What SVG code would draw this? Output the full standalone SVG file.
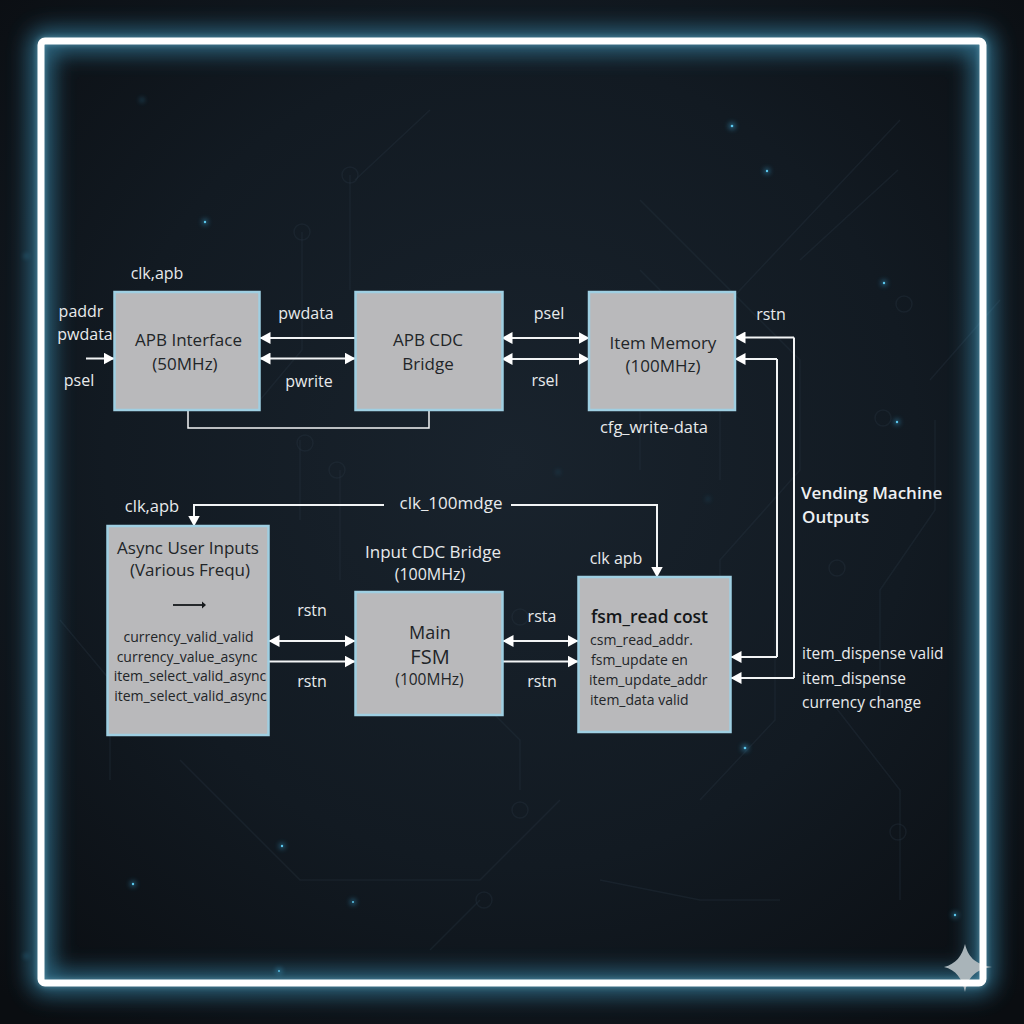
<svg xmlns="http://www.w3.org/2000/svg" width="1024" height="1024" viewBox="0 0 1024 1024">
<defs>
<radialGradient id="bg" cx="50%" cy="45%" r="72%">
<stop offset="0" stop-color="#19232d"/><stop offset="0.55" stop-color="#121a22"/><stop offset="1" stop-color="#0a0d11"/>
</radialGradient>
<filter id="glow" x="-15%" y="-15%" width="130%" height="130%"><feGaussianBlur stdDeviation="11"/></filter>
<filter id="soft" x="-15%" y="-15%" width="130%" height="130%"><feGaussianBlur stdDeviation="3"/></filter>
<filter id="dot" x="-300%" y="-300%" width="700%" height="700%"><feGaussianBlur stdDeviation="2.5"/></filter>
<filter id="bl" x="-5%" y="-5%" width="110%" height="110%"><feGaussianBlur stdDeviation="0.35"/></filter>
<marker id="h" viewBox="0 0 11 12" refX="10.5" refY="6" markerWidth="11" markerHeight="12" markerUnits="userSpaceOnUse" orient="auto-start-reverse"><path d="M0 0L11 6L0 12Z" fill="#fff"/></marker>
<style>
.box{fill:#b9b9bb;stroke:#9fcfe2;stroke-width:2.5}
.c{fill:none;stroke:#f2f4f5;stroke-width:2}
.a{marker-end:url(#h)}
.d{marker-start:url(#h);marker-end:url(#h)}
text{font-family:"Open Sans","Noto Sans","Liberation Sans",sans-serif}
.l{fill:#e8eaec;font-size:16px;text-anchor:middle}
.ls{fill:#e8eaec;font-size:15.5px}
.t{fill:#222528;font-size:17px;text-anchor:middle}
.m{fill:#222528;font-size:14px;text-anchor:middle}
.n{fill:#222528;font-size:14px}
.tr{fill:none;stroke:#2a3844;stroke-width:1.5;opacity:.3}
.s{fill:#5cc8ee}
.sg{fill:#3aa6d6;opacity:.5;filter:url(#dot)}
</style>
</defs>
<rect width="1024" height="1024" fill="url(#bg)"/>
<g id="background-traces">
<path class="tr" d="M350 175V290M302 232V350L260 400M355 180L430 110M640 200L800 360V470L720 560V700M900 120L740 290L640 400V470M898 170L800 260M935 420V510L880 590V700M1000 300L930 380M775 620V720L700 800M180 760L300 880H480L560 800M520 790V740L470 690M60 620L110 680V780M300 440V520M340 470V580M640 270L720 350V480M830 700L900 790V900M480 900L430 950M600 880L700 900H780"/>
<circle class="tr" cx="350" cy="175" r="8"/><circle class="tr" cx="302" cy="232" r="8"/><circle class="tr" cx="305" cy="443" r="8"/><circle class="tr" cx="337" cy="470" r="8"/><circle class="tr" cx="904" cy="304" r="8"/><circle class="tr" cx="883" cy="418" r="8"/><circle class="tr" cx="837" cy="568" r="8"/><circle class="tr" cx="520" cy="810" r="8"/><circle class="tr" cx="484" cy="900" r="8"/><circle class="tr" cx="898" cy="832" r="8"/><circle class="tr" cx="520" cy="617" r="8"/>
</g>
<g id="sparkles">
<circle class="sg" cx="732" cy="126" r="3.500"/><circle class="s" cx="732" cy="126" r="1.300"/>
<circle class="sg" cx="767" cy="171" r="3"/><circle class="s" cx="767" cy="171" r="1.200"/>
<circle class="sg" cx="884" cy="283" r="3"/><circle class="s" cx="884" cy="283" r="1.200"/>
<circle class="sg" cx="897" cy="422" r="3"/><circle class="s" cx="897" cy="422" r="1.200"/>
<circle class="sg" cx="205" cy="222" r="3"/><circle class="s" cx="205" cy="222" r="1.200"/>
<circle class="sg" cx="142" cy="100" r="2"/>
<circle class="sg" cx="558" cy="472" r="1.500"/><circle class="sg" cx="708" cy="499" r="1.500"/>
<circle class="sg" cx="745" cy="748" r="3.500"/><circle class="s" cx="745" cy="748" r="1.300"/>
<circle class="sg" cx="282" cy="846" r="3"/><circle class="s" cx="282" cy="846" r="1.200"/>
<circle class="sg" cx="133" cy="884" r="3"/><circle class="s" cx="133" cy="884" r="1.200"/>
<circle class="sg" cx="353" cy="902" r="3"/><circle class="s" cx="353" cy="902" r="1"/>
<circle class="sg" cx="279" cy="971" r="3"/><circle class="s" cx="279" cy="971" r="1"/>
<circle class="sg" cx="955" cy="915" r="3"/><circle class="s" cx="955" cy="915" r="1.200"/>
<circle class="sg" cx="26" cy="256" r="2"/><circle class="sg" cx="26" cy="956" r="2"/>
</g>
<g id="frame">
<rect x="41" y="41" width="942" height="942" rx="4" fill="none" stroke="#3f9cc4" stroke-width="22" filter="url(#glow)" opacity=".65"/>
<rect x="41" y="41" width="942" height="942" rx="4" fill="none" stroke="#8fdcf5" stroke-width="7" filter="url(#soft)" opacity=".45"/>
<path d="M965 944C968 956 974 964 992 967C974 970 968 978 965 992C962 978 956 970 944 967C956 964 962 956 965 944Z" fill="#a9b4b9"/>
<rect x="41" y="41" width="942" height="942" rx="4" fill="none" stroke="#fff" stroke-width="7"/>
</g>
<g id="connectors" filter="url(#bl)">
<path class="c a" d="M86 358.500H114"/>
<path class="c a" d="M355 338H260"/>
<path class="c d" d="M260 358.500H355"/>
<path class="c" style="stroke-width:1.500" d="M188 410V428H429V410"/>
<path class="c d" d="M502 338H589"/>
<path class="c d" d="M502 359H589"/>
<path class="c a" d="M794 337.500H735"/>
<path class="c a" d="M777 359H735"/>
<path class="c" d="M777 359V657M794 337.500V678"/>
<path class="c a" d="M777 657H731"/>
<path class="c a" d="M794 678H731"/>
<path class="c a" d="M384 505H194V526"/>
<path class="c a" d="M511 505H657V577"/>
<path class="c d" d="M269 641H355"/>
<path class="c a" d="M269 661.500H355"/>
<path class="c d" d="M503 641H578"/>
<path class="c a" d="M503 661.500H578"/>
</g>
<g id="node-apb-interface">
<rect class="box" x="114.500" y="292" width="145" height="118"/>
<text class="t" x="188.500" y="346">APB Interface</text><text class="t" x="185" y="370">(50MHz)</text>
</g>
<g id="node-apb-cdc-bridge">
<rect class="box" x="355.500" y="292" width="147" height="118"/>
<text class="t" x="428" y="346">APB CDC</text><text class="t" x="428" y="370">Bridge</text>
</g>
<g id="node-item-memory">
<rect class="box" x="589" y="292" width="146" height="118"/>
<text class="t" x="663" y="349">Item Memory</text><text class="t" x="663" y="372">(100MHz)</text>
</g>
<g id="node-async-user-inputs">
<rect class="box" x="107.500" y="526" width="161" height="209"/>
<text class="t" x="188" y="554">Async User Inputs</text><text class="t" x="190" y="576">(Various Frequ)</text>
<path d="M173 605H203" fill="none" stroke="#15181b" stroke-width="1.800"/><path d="M202 601.500L206 605L202 608.500Z" fill="#15181b"/>
<text class="m" x="188.500" y="642">currency_valid_valid</text>
<text class="m" x="187" y="662">currency_value_async</text>
<text class="m" x="190" y="681">item_select_valid_async</text>
<text class="m" x="190.500" y="701">item_select_valid_async</text>
</g>
<g id="node-main-fsm">
<rect class="box" x="355.500" y="592" width="147" height="123"/>
<text class="t" x="430" y="639" style="font-size:18px">Main</text><text class="t" x="430" y="664" style="font-size:20px">FSM</text><text class="t" x="429.500" y="685" style="font-size:15.500px">(100MHz)</text>
</g>
<g id="node-fsm-read-cost">
<rect class="box" x="578.500" y="577" width="152" height="155"/>
<text x="591" y="623" style="fill:#141618;font-size:17.500px;font-weight:600">fsm_read cost</text>
<text class="n" x="590" y="645">csm_read_addr.</text>
<text class="n" x="591" y="665">fsm_update en</text>
<text class="n" x="589" y="685">item_update_addr</text>
<text class="n" x="590" y="705">item_data valid</text>
</g>
<g id="labels">
<text class="l" x="157" y="279">clk,apb</text>
<text class="l" x="81" y="317">paddr</text>
<text class="l" x="85" y="340">pwdata</text>
<text class="l" x="79" y="386">psel</text>
<text class="l" x="306" y="319">pwdata</text>
<text class="l" x="309" y="387">pwrite</text>
<text class="l" x="549" y="319">psel</text>
<text class="l" x="545" y="386">rsel</text>
<text class="l" x="771" y="320">rstn</text>
<text class="l" x="654" y="433" style="font-size:16.500px">cfg_write-data</text>
<text x="801" y="499" style="fill:#eef0f2;font-size:17px;font-weight:600">Vending Machine</text>
<text x="802" y="523" style="fill:#eef0f2;font-size:17px;font-weight:600">Outputs</text>
<text class="l" x="152" y="512" style="font-size:16.500px">clk,apb</text>
<text class="l" x="451" y="509" style="font-size:17px">clk_100mdge</text>
<text class="l" x="433" y="558" style="font-size:17px">Input CDC Bridge</text>
<text class="l" x="430" y="580">(100MHz)</text>
<text class="l" x="312" y="616">rstn</text>
<text class="l" x="312" y="687">rstn</text>
<text class="l" x="542" y="622">rsta</text>
<text class="l" x="542" y="687">rstn</text>
<text class="l" x="616" y="564">clk apb</text>
<text class="ls" x="802" y="659">item_dispense valid</text>
<text class="ls" x="802" y="684">item_dispense</text>
<text class="ls" x="802" y="708">currency change</text>
</g>
</svg>
